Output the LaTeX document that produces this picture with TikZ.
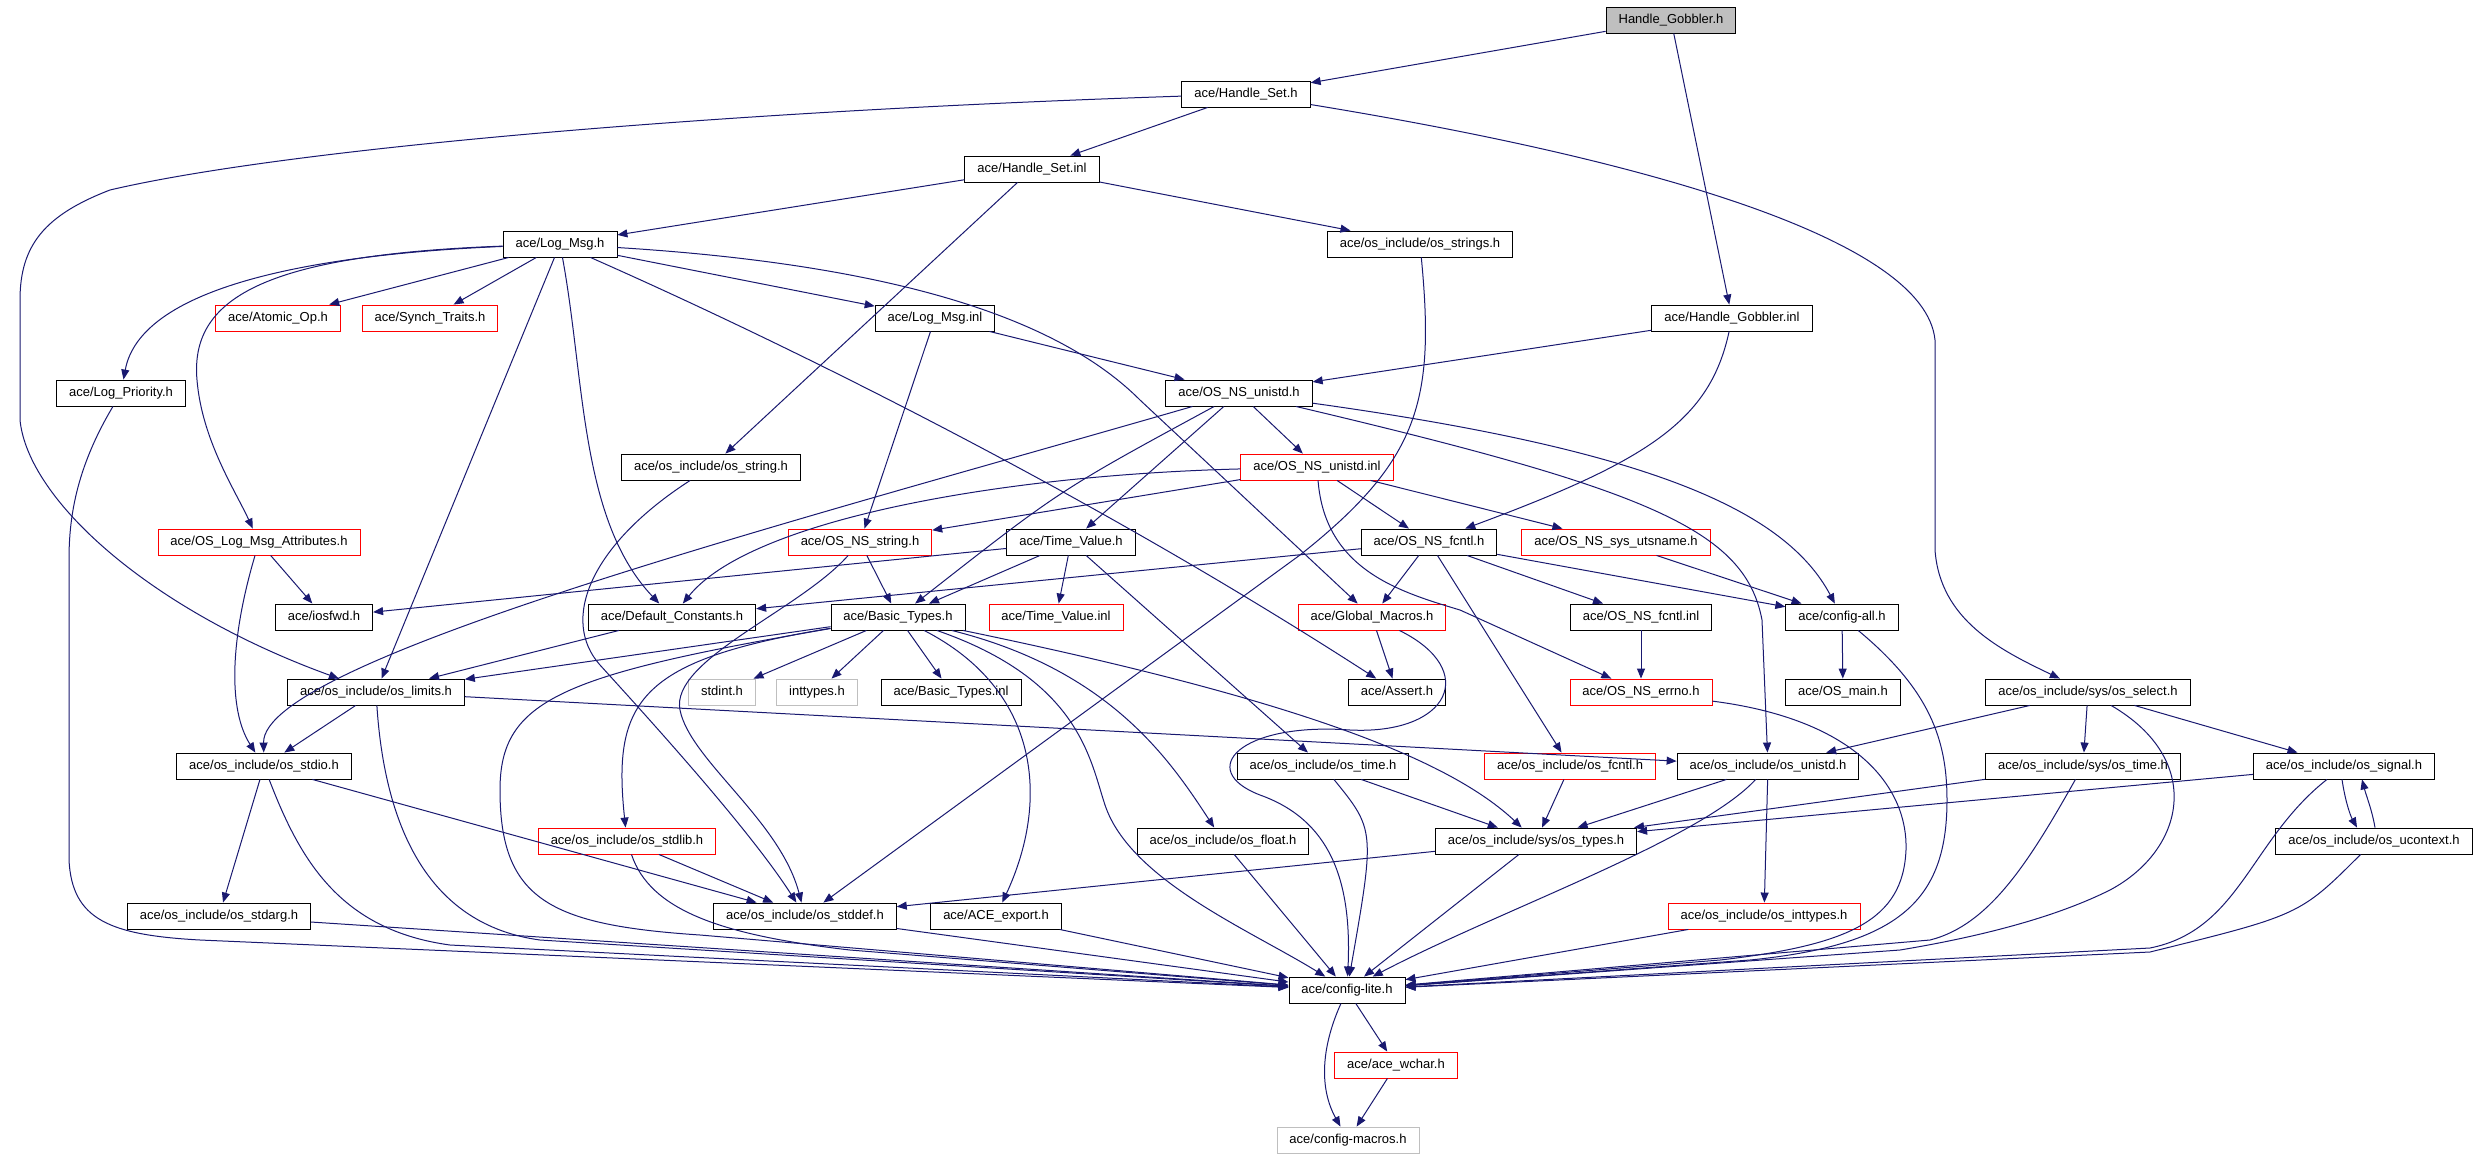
\documentclass[tikz,border=0pt]{standalone}
\usepackage{fontspec}
\setmainfont{Liberation Sans}
\usetikzlibrary{arrows.meta}
\definecolor{edgec}{RGB}{25,25,112}
\definecolor{lgray}{RGB}{191,191,191}
\tikzset{
  nd/.style={draw=black, line width=0.9pt, inner xsep=12.5pt, inner ysep=0pt,
    minimum height=26pt, text height=9.5pt, text depth=2.8pt,
    font=\fontsize{13pt}{15pt}\selectfont, fill=white},
  trunc/.style={draw=red},
  ext/.style={draw=lgray},
  rootnd/.style={fill=lgray},
  arr/.style={draw=edgec, line width=1pt, -{Triangle[length=10pt,width=8pt]}}
}
\begin{document}
\begin{tikzpicture}[x=1pt,y=-1pt]
\useasboundingbox[fill=white] (0,0) rectangle (2477,1157);
% row 0
\node[nd,rootnd] (HG) at (1671,20) {Handle\_Gobbler.h};
% row 1
\node[nd] (HS) at (1246,94) {ace/Handle\_Set.h};
% row 2
\node[nd] (HSI) at (1032,169) {ace/Handle\_Set.inl};
% row 3
\node[nd] (LM) at (560,244) {ace/Log\_Msg.h};
\node[nd] (OSS) at (1420,244) {ace/os\_include/os\_strings.h};
% row 4
\node[nd,trunc] (AO) at (278,318) {ace/Atomic\_Op.h};
\node[nd,trunc] (ST) at (430,318) {ace/Synch\_Traits.h};
\node[nd] (LMI) at (935,318) {ace/Log\_Msg.inl};
\node[nd] (HGI) at (1732,318) {ace/Handle\_Gobbler.inl};
% row 5
\node[nd] (LP) at (121,393) {ace/Log\_Priority.h};
\node[nd] (OSU) at (1239,393) {ace/OS\_NS\_unistd.h};
% row 6
\node[nd] (OSTR) at (711,467) {ace/os\_include/os\_string.h};
\node[nd,trunc] (OSUI) at (1317,467) {ace/OS\_NS\_unistd.inl};
% row 7
\node[nd,trunc] (OLMA) at (259,542) {ace/OS\_Log\_Msg\_Attributes.h};
\node[nd,trunc] (ONS) at (860,542) {ace/OS\_NS\_string.h};
\node[nd] (TV) at (1071,542) {ace/Time\_Value.h};
\node[nd] (ONF) at (1429,542) {ace/OS\_NS\_fcntl.h};
\node[nd,trunc] (UTS) at (1616,542) {ace/OS\_NS\_sys\_utsname.h};
% row 8
\node[nd] (IOS) at (324,617) {ace/iosfwd.h};
\node[nd] (DC) at (672,617) {ace/Default\_Constants.h};
\node[nd] (BT) at (898,617) {ace/Basic\_Types.h};
\node[nd,trunc] (TVI) at (1056,617) {ace/Time\_Value.inl};
\node[nd,trunc] (GM) at (1372,617) {ace/Global\_Macros.h};
\node[nd] (ONFI) at (1641,617) {ace/OS\_NS\_fcntl.inl};
\node[nd] (CA) at (1842,617) {ace/config-all.h};
% row 9
\node[nd] (OLIM) at (376,692) {ace/os\_include/os\_limits.h};
\node[nd,ext] (SI) at (722,692) {stdint.h};
\node[nd,ext] (IT) at (817,692) {inttypes.h};
\node[nd] (BTI) at (951,692) {ace/Basic\_Types.inl};
\node[nd] (AS) at (1397,692) {ace/Assert.h};
\node[nd,trunc] (ERR) at (1641,692) {ace/OS\_NS\_errno.h};
\node[nd] (OM) at (1843,692) {ace/OS\_main.h};
\node[nd] (SEL) at (2088,692) {ace/os\_include/sys/os\_select.h};
% row 10
\node[nd] (STDIO) at (264,766) {ace/os\_include/os\_stdio.h};
\node[nd] (OTIME) at (1323,766) {ace/os\_include/os\_time.h};
\node[nd,trunc] (FCNTL) at (1570,766) {ace/os\_include/os\_fcntl.h};
\node[nd] (OUNI) at (1768,766) {ace/os\_include/os\_unistd.h};
\node[nd] (STIME) at (2083,766) {ace/os\_include/sys/os\_time.h};
\node[nd] (SIG) at (2344,766) {ace/os\_include/os\_signal.h};
% row 11
\node[nd,trunc] (STDLIB) at (627,841) {ace/os\_include/os\_stdlib.h};
\node[nd] (FLOAT) at (1223,841) {ace/os\_include/os\_float.h};
\node[nd] (TYPES) at (1536,841) {ace/os\_include/sys/os\_types.h};
\node[nd] (UCTX) at (2374,841) {ace/os\_include/os\_ucontext.h};
% row 12
\node[nd] (STDARG) at (219,916) {ace/os\_include/os\_stdarg.h};
\node[nd] (STDDEF) at (805,916) {ace/os\_include/os\_stddef.h};
\node[nd] (EXP) at (996,916) {ace/ACE\_export.h};
\node[nd,trunc] (INTT) at (1764,916) {ace/os\_include/os\_inttypes.h};
% row 13-15
\node[nd] (CL) at (1347,990) {ace/config-lite.h};
\node[nd,trunc] (WCH) at (1396,1065) {ace/ace\_wchar.h};
\node[nd,ext] (CM) at (1348,1140) {ace/config-macros.h};

% ---------- edges ----------
\draw[arr] (HG) -- (HS);
\draw[arr] (HG) -- (HGI);
\draw[arr] (HS) -- (HSI);
\draw[arr] (HS) .. controls (700,112) and (280,150) .. (110,190) .. controls (45,215) and (20,245) .. (20,300) -- (20,420) .. controls (28,500) and (150,610) .. (OLIM);
\draw[arr] (HS) .. controls (1650,160) and (1925,240) .. (1935,340) -- (1935,550) .. controls (1940,620) and (2000,650) .. (SEL);
\draw[arr] (HSI) -- (LM);
\draw[arr] (HSI) -- (OSTR);
\draw[arr] (HSI) -- (OSS);
\draw[arr] (LM) -- (AO);
\draw[arr] (LM) -- (ST);
\draw[arr] (LM) .. controls (300,255) and (140,290) .. (LP);
\draw[arr] (LM) .. controls (260,255) and (190,300) .. (197,380) .. controls (202,440) and (235,490) .. (OLMA);
\draw[arr] (LM) -- (OLIM);
\draw[arr] (LM) .. controls (585,380) and (580,520) .. (DC);
\draw[arr] (LM) -- (LMI);
\draw[arr] (LM) .. controls (900,265) and (1060,320) .. (1140,400) -- (GM);
\draw[arr] (LM) .. controls (800,350) and (1100,500) .. (AS);
\draw[arr] (LP) .. controls (75,470) and (69,520) .. (69,560) -- (69,860) .. controls (72,920) and (110,935) .. (200,940) -- (CL);
\draw[arr] (OLMA) -- (IOS);
\draw[arr] (OLMA) .. controls (230,640) and (228,710) .. (STDIO);
\draw[arr] (OLIM) -- (STDIO);
\draw[arr] (OLIM) .. controls (385,830) and (430,925) .. (540,940) -- (CL);
\draw[arr] (OLIM) -- (OUNI);
\draw[arr] (STDIO) -- (STDARG);
\draw[arr] (STDIO) .. controls (300,860) and (340,930) .. (450,945) -- (CL);
\draw[arr] (STDIO) -- (STDDEF);
\draw[arr] (STDARG) -- (CL);
\draw[arr] (STDDEF) -- (CL);
\draw[arr] (EXP) -- (CL);
\draw[arr] (FLOAT) -- (CL);
\draw[arr] (TYPES) -- (CL);
\draw[arr] (TYPES) -- (STDDEF);
\draw[arr] (OTIME) -- (TYPES);
\draw[arr] (OTIME) .. controls (1375,830) .. (CL);
\draw[arr] (FCNTL) -- (TYPES);
\draw[arr] (OUNI) -- (TYPES);
\draw[arr] (OUNI) .. controls (1700,840) and (1500,910) .. (CL);
\draw[arr] (OUNI) -- (INTT);
\draw[arr] (INTT) -- (CL);
\draw[arr] (STIME) -- (TYPES);
\draw[arr] (STIME) .. controls (2030,860) and (1990,925) .. (1930,940) -- (CL);
\draw[arr] (SIG) -- (TYPES);
\draw[arr] ([xshift=-2pt]SIG.south) .. controls (2345,800) and (2350,815) .. ([xshift=-17pt]UCTX.north);
\draw[arr] ([xshift=1pt]UCTX.north) .. controls (2372,810) and (2366,795) .. ([xshift=18pt]SIG.south);
\draw[arr] (SIG) .. controls (2250,840) and (2240,930) .. (2150,948) -- (CL);
\draw[arr] (UCTX) .. controls (2300,915) .. (2150,952) -- (CL);
\draw[arr] (SEL) -- (OUNI);
\draw[arr] (SEL) -- (STIME);
\draw[arr] (SEL) -- (SIG);
\draw[arr] (SEL) .. controls (2205,760) and (2185,850) .. (2110,890) .. controls (2060,915) and (1990,935) .. (1900,950) -- (CL);
\draw[arr] (CA) -- (OM);
\draw[arr] (CA) .. controls (1930,690) and (1947,740) .. (1947,800) .. controls (1947,900) and (1900,945) .. (1750,960) -- (CL);
\draw[arr] (ERR) .. controls (1860,720) and (1908,790) .. (1906,850) .. controls (1903,920) and (1850,945) .. (1720,960) -- (CL);
\draw[arr] (GM) -- (AS);
\draw[arr] (GM) .. controls (1480,670) and (1450,735) .. (1350,730) .. controls (1240,722) and (1195,770) .. (1260,795) .. controls (1330,820) and (1352,880) .. (CL);
\draw[arr] (ONFI) -- (ERR);
\draw[arr] (ONF) -- (DC);
\draw[arr] (ONF) -- (GM);
\draw[arr] (ONF) -- (FCNTL);
\draw[arr] (ONF) -- (ONFI);
\draw[arr] (ONF) -- (CA);
\draw[arr] (UTS) -- (CA);
\draw[arr] (TV) -- (BT);
\draw[arr] (TV) -- (TVI);
\draw[arr] (TV) -- (IOS);
\draw[arr] (TV) -- (OTIME);
\draw[arr] (OSUI) -- (ONS);
\draw[arr] (OSUI) .. controls (1000,475) and (750,520) .. (DC);
\draw[arr] (OSUI) -- (ONF);
\draw[arr] (OSUI) -- (UTS);
\draw[arr] (OSUI) .. controls (1325,570) and (1400,592) .. (1460,610) -- (ERR);
\draw[arr] (OSU) -- (OSUI);
\draw[arr] (OSU) -- (TV);
\draw[arr] (OSU) .. controls (1060,490) .. (BT);
\draw[arr] (OSU) .. controls (800,520) and (262,660) .. (STDIO);
\draw[arr] (OSU) .. controls (1650,450) and (1785,510) .. (CA);
\draw[arr] (OSU) .. controls (1650,490) and (1745,530) .. (1762,620) -- (OUNI);
\draw[arr] (HGI) -- (OSU);
\draw[arr] (HGI) .. controls (1710,420) and (1650,460) .. (ONF);
\draw[arr] (LMI) -- (OSU);
\draw[arr] (LMI) -- (ONS);
\draw[arr] (OSS) .. controls (1435,400) and (1420,460) .. (1300,555) -- (STDDEF);
\draw[arr] (OSTR) .. controls (590,545) and (560,620) .. (600,665) .. controls (650,720) and (750,830) .. (STDDEF);
\draw[arr] (ONS) -- (BT);
\draw[arr] (ONS) .. controls (800,610) and (670,660) .. (680,710) .. controls (690,760) and (780,820) .. (STDDEF);
\draw[arr] (DC) -- (OLIM);
\draw[arr] (BT) -- (SI);
\draw[arr] (BT) -- (IT);
\draw[arr] (BT) -- (BTI);
\draw[arr] (BT) -- (OLIM);
\draw[arr] (BT) .. controls (640,660) and (612,700) .. (STDLIB);
\draw[arr] (BT) .. controls (560,675) and (500,700) .. (500,790) .. controls (500,900) and (550,925) .. (700,935) -- (CL);
\draw[arr] (BT) .. controls (1080,680) and (1090,760) .. (1105,805) .. controls (1130,880) and (1250,930) .. (CL);
\draw[arr] (BT) .. controls (1040,690) and (1050,800) .. (EXP);
\draw[arr] (BT) .. controls (1110,670) and (1170,760) .. (FLOAT);
\draw[arr] (BT) .. controls (1300,700) and (1450,760) .. (TYPES);
\draw[arr] (STDLIB) -- (STDDEF);
\draw[arr] (STDLIB) .. controls (650,910) and (720,935) .. (850,950) -- (CL);
\draw[arr] (CL) -- (WCH);
\draw[arr] (CL) .. controls (1320,1050) and (1320,1090) .. (CM);
\draw[arr] (WCH) -- (CM);
\end{tikzpicture}
\end{document}
